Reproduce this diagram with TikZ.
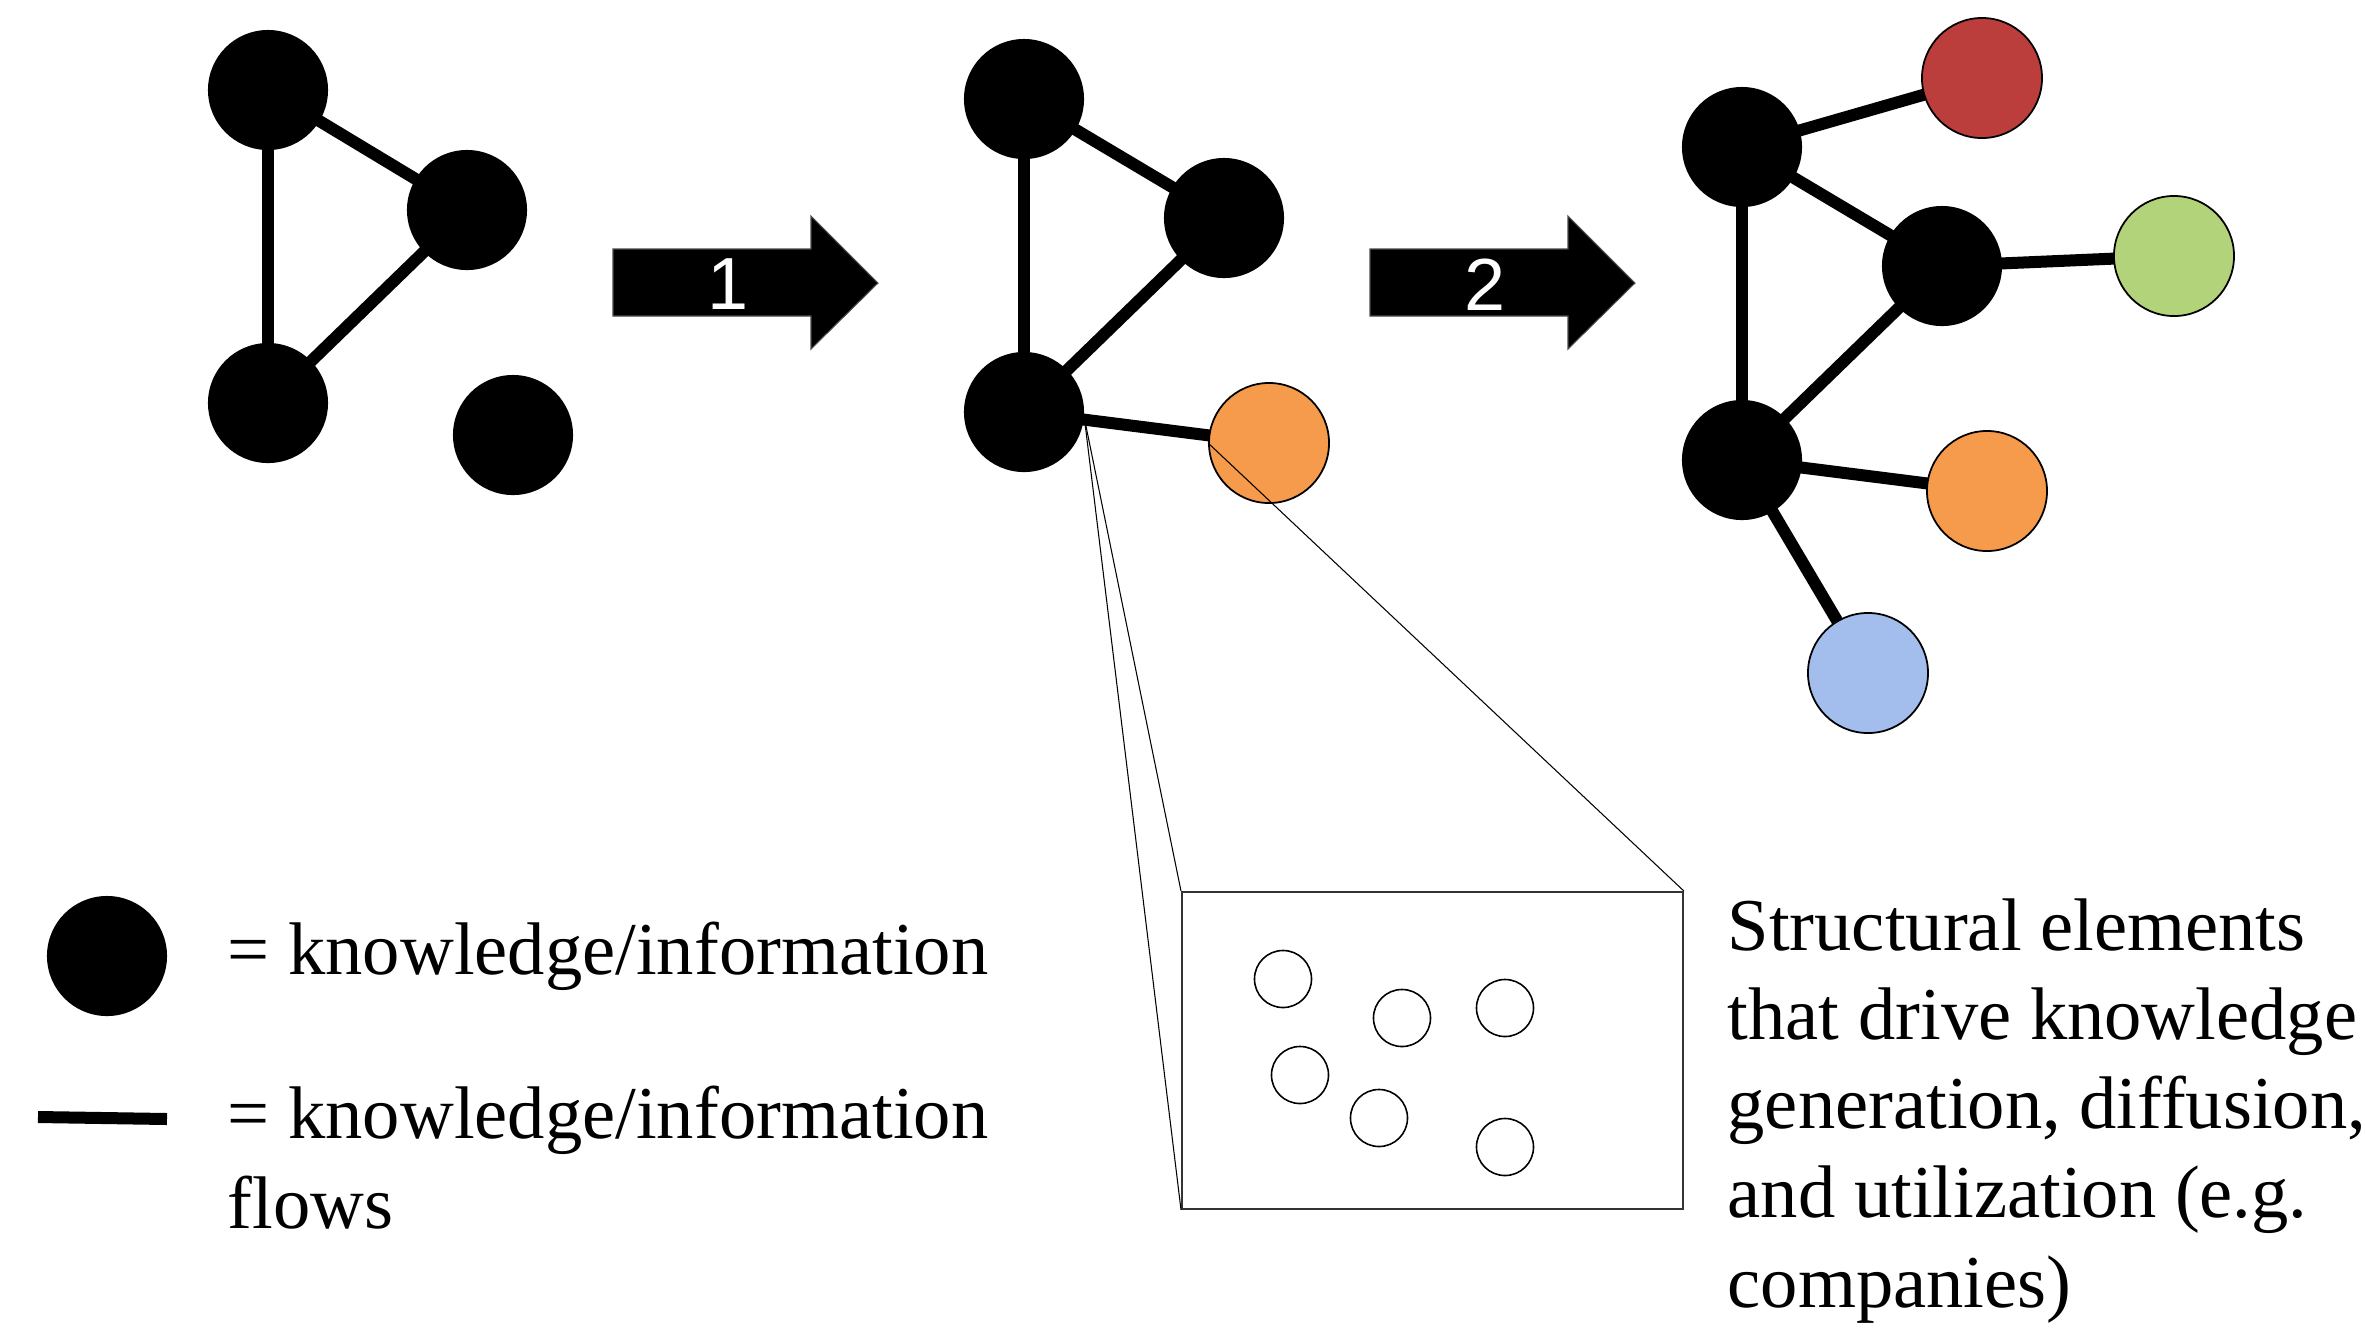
\documentclass[tikz,border=0pt]{standalone}
\usepackage{fontspec}
\setmainfont{Liberation Serif}
\newfontfamily\labelfont{Liberation Sans}
\usetikzlibrary{backgrounds}
\definecolor{agentred}{HTML}{BB3E3D}
\definecolor{agentgreen}{HTML}{B3D37A}
\definecolor{agentorange}{HTML}{F69A4B}
\definecolor{agentblue}{HTML}{A3BEEC}
\begin{document}
\begin{tikzpicture}[x=0.01cm,y=-0.01cm,
  knot/.style={circle,fill=black,minimum size=1.2cm,inner sep=0pt},
  agent/.style={circle,draw=black,line width=0.5pt,minimum size=1.2cm,inner sep=0pt},
  flow/.style={line width=0.12cm},
  firm/.style={circle,draw=black,line width=0.45pt,minimum size=0.57cm,inner sep=0pt},
  zoomline/.style={line width=0.3pt,draw=black},
  zoomframe/.style={draw=black!80,line width=0.45pt,rectangle,inner sep=0pt,
    minimum width=5.01cm,minimum height=3.17cm,anchor=north west},
  txt/.style={anchor=base west,inner sep=0pt,font=\fontsize{21.2}{25.4}\selectfont},
  steparrow/.style={fill=black,draw=black!70,line width=0.3pt},
  steplabel/.style={text=white,inner sep=0pt,font=\labelfont\fontsize{21}{25}\selectfont}
]
\useasboundingbox (0,0) rectangle (2365,1329);

% ---- stage 0: three linked nodes and one isolated node
\node[knot] (a1) at (268,90) {};
\node[knot] (b1) at (467,210) {};
\node[knot] (c1) at (268,403) {};
\node[knot] (d1) at (513,435) {};

% ---- step arrows
\fill[steparrow] (613,249) -- (811,249) -- (811,216) -- (878,283) -- (811,349) -- (811,316) -- (613,316) -- cycle;
\node[steplabel] (s1) at (728,284.5) {1};
\fill[steparrow] (1370,249) -- (1568,249) -- (1568,216) -- (1635,283) -- (1568,349) -- (1568,316) -- (1370,316) -- cycle;
\node[steplabel] (s2) at (1485,284.5) {2};

% ---- stage 1: the isolated node becomes an actor
\node[knot] (a2) at (1024,99) {};
\node[knot] (b2) at (1224,218) {};
\node[knot] (c2) at (1024,412) {};
\node[agent,fill=agentorange] (o2) at (1269,443) {};

% ---- stage 2: more actors attached
\node[knot] (a3) at (1742,147) {};
\node[knot] (b3) at (1942,266) {};
\node[knot] (c3) at (1742,460) {};
\node[agent,fill=agentred] (r3) at (1982,78) {};
\node[agent,fill=agentgreen] (g3) at (2174,256) {};
\node[agent,fill=agentorange] (o3) at (1987,491) {};
\node[agent,fill=agentblue] (u3) at (1868,673) {};

% ---- flows, behind the nodes
\begin{pgfonlayer}{background}
  \draw[flow] (a1.center) -- (c1.center);
  \draw[flow] (a1.center) -- (b1.center);
  \draw[flow] (b1.center) -- (c1.center);

  \draw[flow] (a2.center) -- (c2.center);
  \draw[flow] (a2.center) -- (b2.center);
  \draw[flow] (b2.center) -- (c2.center);
  \draw[flow] (c2.center) -- (o2.center);

  \draw[flow] (a3.center) -- (c3.center);
  \draw[flow] (a3.center) -- (b3.center);
  \draw[flow] (b3.center) -- (c3.center);
  \draw[flow] (a3.center) -- (r3.center);
  \draw[flow] (b3.center) -- (g3.center);
  \draw[flow] (c3.center) -- (o3.center);
  \draw[flow] (c3.center) -- (u3.center);
\end{pgfonlayer}

% ---- close-up of the actor
\node[zoomframe] (zoombox) at (1181,891) {};
\node[firm] (f1) at (1283,979) {};
\node[firm] (f2) at (1402,1018) {};
\node[firm] (f3) at (1505,1008) {};
\node[firm] (f4) at (1300,1075) {};
\node[firm] (f5) at (1379,1118) {};
\node[firm] (f6) at (1505,1147) {};
\draw[zoomline] (c2.-6) -- (zoombox.north west);
\draw[zoomline] (c2.-6) -- (zoombox.south west);
\draw[zoomline] (o2.west) -- (zoombox.north east);

% ---- legend
\node[knot] (legknot) at (107,956) {};
\coordinate (legflowA) at (38,1117);
\coordinate (legflowB) at (167,1119);
\draw[flow] (legflowA) -- (legflowB);
\node[txt] (leg1) at (227,974) {= knowledge/information};
\node[txt] (leg2) at (227,1138) {= knowledge/information};
\node[txt] (leg3) at (227,1228) {flows};

% ---- description of the close-up
\node[txt] (desc1) at (1727,950) {Structural elements};
\node[txt] (desc2) at (1727,1039) {that drive knowledge};
\node[txt] (desc3) at (1727,1128) {generation, diffusion,};
\node[txt] (desc4) at (1727,1217) {and utilization (e.g.};
\node[txt] (desc5) at (1727,1307) {companies)};
\end{tikzpicture}
\end{document}
